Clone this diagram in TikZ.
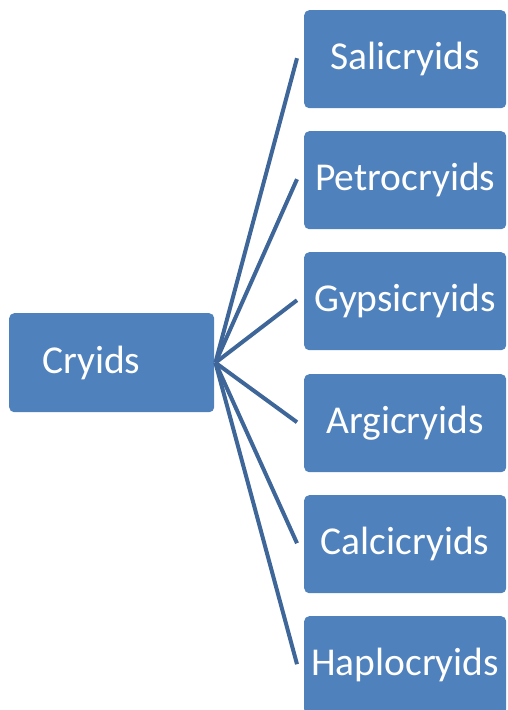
\documentclass[tikz,border=0pt]{standalone}
\usepackage{fontspec}
\setmainfont{Carlito}
\usetikzlibrary{calc}
\definecolor{boxblue}{HTML}{4F81BD}
\definecolor{lineblue}{HTML}{3E6699}
\begin{document}
\begin{tikzpicture}[x=1pt,y=-1pt,
  box/.style={fill=boxblue, rounded corners=5pt, text=white, font=\fontsize{39.5}{44}\selectfont, inner sep=0pt},
  leafbox/.style={box, minimum width=202pt, minimum height=98pt},
  conn/.style={draw=lineblue, line width=4pt}]
\useasboundingbox (0,0) rectangle (507,710);
\node[box, minimum height=99pt, text width=139pt, inner xsep=33pt, align=left, anchor=north west] (root) at (9,313) {Cryids};
\node[leafbox, anchor=north west] (l1) at (304,10) {Salicryids};
\node[leafbox, anchor=north west] (l2) at (304,131) {Petrocryids};
\node[leafbox, anchor=north west] (l3) at (304,252) {Gypsicryids};
\node[leafbox, anchor=north west] (l4) at (304,374) {Argicryids};
\node[leafbox, anchor=north west] (l5) at (304,495) {Calcicryids};
\node[leafbox, anchor=north west] (l6) at (304,616) {Haplocryids};
\coordinate (o) at ($(root.east)+(1,0)$);
\foreach \i in {1,...,6}{
  \coordinate (e\i) at ($(l\i.west)+(-7,-1)$);
  \draw[conn] (o) -- (e\i);
}
\end{tikzpicture}
\end{document}
